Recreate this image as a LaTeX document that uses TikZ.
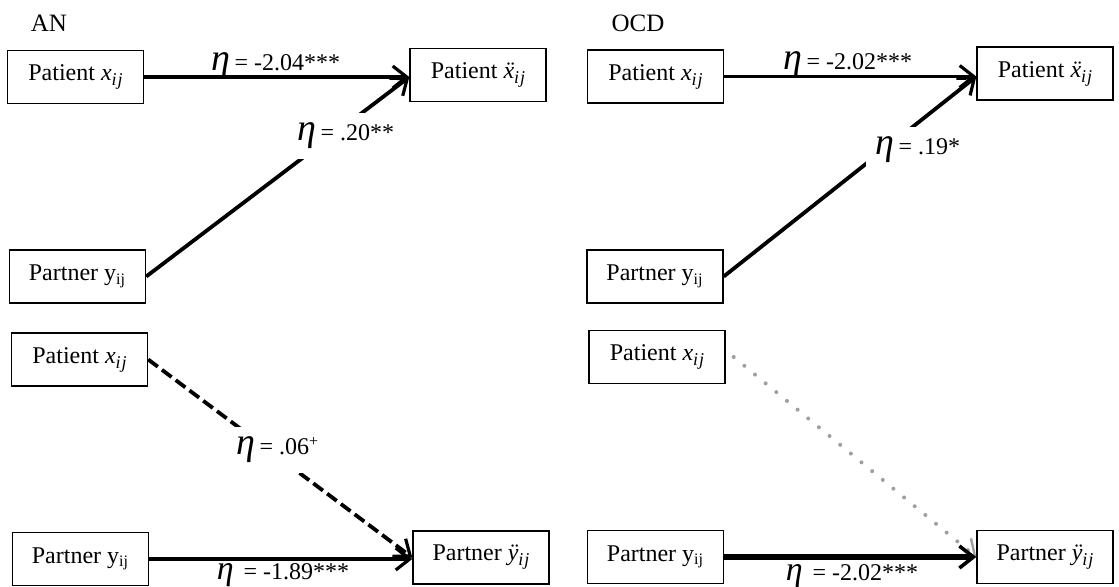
\documentclass[tikz,border=0pt]{standalone}
\usepackage{fontspec}
\setmainfont{Liberation Serif}
\usetikzlibrary{arrows.meta}
\newcommand{\eeta}[1][19]{{\fontsize{#1}{#1}\selectfont\itshape η}}
\newcommand{\subij}{\raisebox{-0.45ex}{\fontsize{9}{9}\selectfont\itshape i\kern0.5pt j}}
\newcommand{\vx}{\textit{x}\subij}
\newcommand{\vxdd}{\textit{\"x}\subij}
\newcommand{\vydd}{\textit{\"y}\subij}
\tikzset{
  varbox/.style={draw, line width=0.7pt, minimum width=68pt, minimum height=26.5pt, inner sep=0pt, font=\fontsize{12}{14}\selectfont},
  title/.style={font=\fontsize{12.5}{14}\selectfont, inner sep=0pt},
  lbl/.style={font=\fontsize{12}{14}\selectfont, inner sep=0pt},
  wlbl/.style={lbl, fill=white, inner sep=5pt},
  path/.style={line width=1.9pt, -{Straight Barb[length=7pt, width=11pt, line width=1.6pt]}},
  thickpath/.style={line width=2.6pt, -{Straight Barb[length=7pt, width=11pt, line width=1.8pt]}},
  dashpath/.style={path, dash pattern=on 6pt off 2.6pt},
  dotpath/.style={line width=2pt, color=gray!75, line cap=round, dash pattern=on 0pt off 6.9pt,
    -{Straight Barb[length=7pt, width=11pt, line width=1.2pt]}},
}
\begin{document}
\begin{tikzpicture}[x=0.5pt, y=-0.5pt]
\useasboundingbox (0,0) rectangle (1119,586);
% titles
\node[title] (tAN) at (49,23) {AN};
\node[title] (tOCD) at (638,23) {OCD};
% AN boxes
\node[varbox] (a1) at (75.5,77) {Patient \vx};
\node[varbox] (a2) at (478,75) {Patient \vxdd};
\node[varbox] (a3) at (77.5,276.5) {Partner y\textsubscript{ij}};
\node[varbox] (a4) at (79.5,359.5) {Patient \vx};
\node[varbox] (a5) at (80.5,559) {Partner y\textsubscript{ij}};
\node[varbox] (a6) at (481,557.5) {Partner \vydd};
% OCD boxes
\node[varbox] (o1) at (655.5,76.5) {Patient \vx};
\node[varbox] (o2) at (1045,73.5) {Patient \vxdd};
\node[varbox] (o3) at (655,276.5) {Partner y\textsubscript{ij}};
\node[varbox] (o4) at (657,357) {Patient \vx};
\node[varbox] (o5) at (655.5,557) {Partner y\textsubscript{ij}};
\node[varbox] (o6) at (1045,557) {Partner \vydd};
% AN connectors
\draw[path] (a1.east) -- (a1.east -| a2.west);
\draw[path] (a3.east) -- ([yshift=-1pt]a2.west);
\draw[dashpath] (a4.east) -- (a6.west);
\draw[path] (a5.east) -- (a5.east -| a6.west);
% OCD connectors
\draw[path] (o1.east) -- (o1.east -| o2.west);
\draw[path] (o3.east) -- ([yshift=-1.5pt]o2.west);
\draw[dotpath] ([xshift=4pt]o4.east) -- (o6.west);
\draw[thickpath] (o5.east) -- (o6.west);
% AN labels
\node[lbl] (l1) at (276,66) {\eeta\,= -2.04***};
\node[wlbl] (l2) at (346,136) {\eeta\,= .20**};
\node[wlbl] (l3) at (278,450) {\eeta\,= .06\textsuperscript{+}};
\node[lbl, anchor=north] (l4) at (283,563) {\eeta[17]\ \,= -1.89***};
% OCD labels
\node[lbl] (l5) at (848,65) {\eeta\,= -2.02***};
\node[wlbl] (l6) at (918,150) {\eeta\,= .19*};
\node[lbl, anchor=north] (l7) at (852,564) {\eeta[17]\ \,= -2.02***};
\end{tikzpicture}
\end{document}
